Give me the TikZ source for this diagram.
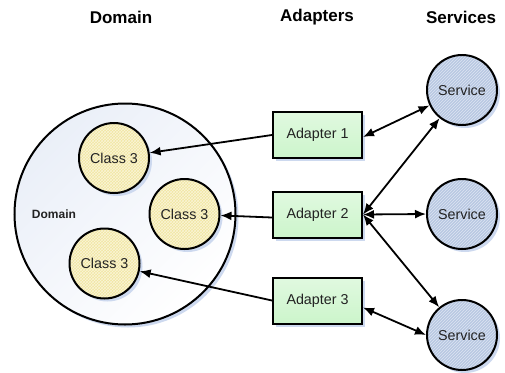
\documentclass[tikz,border=0pt]{standalone}
\usepackage{fontspec}
\setmainfont{Liberation Sans}
\usetikzlibrary{shadows,patterns,arrows.meta}
\definecolor{classfill}{HTML}{F0E6A2}
\definecolor{classhatch}{HTML}{FAF4D6}
\definecolor{svcfill}{HTML}{B8C8E2}
\definecolor{svchatch}{HTML}{DDE5F3}
\definecolor{adfill}{HTML}{CCF5CB}
\definecolor{shadowc}{HTML}{CDD9EF}
\definecolor{domfill}{HTML}{EAEFF8}
\definecolor{labeltext}{HTML}{222222}
\begin{document}
\begin{tikzpicture}[x=1pt,y=-1pt,
  shadowed/.style={drop shadow={shadow xshift=3pt,shadow yshift=-3pt,fill=shadowc,opacity=1}},
  title/.style={font=\bfseries\fontsize{17}{20}\selectfont,text=black},
  lbl/.style={font=\fontsize{14.3}{16}\selectfont,text=labeltext},
  domainnode/.style={circle,draw=black,line width=2pt,minimum size=221pt,inner sep=0pt,shadowed,left color=domfill,right color=white,shading angle=45},
  classnode/.style={circle,draw=black,line width=2pt,minimum size=70pt,inner sep=0pt,shadowed,preaction={fill=classfill},pattern=crosshatch,pattern color=classhatch,lbl},
  adnode/.style={rectangle,draw=black,line width=2pt,minimum width=89pt,minimum height=46pt,inner sep=0pt,shadowed,top color=adfill!60!white,bottom color=adfill,lbl},
  svcnode/.style={circle,draw=black,line width=2pt,minimum size=70pt,inner sep=0pt,shadowed,preaction={fill=svcfill},pattern=north east lines,pattern color=svchatch,lbl},
  conn/.style={line width=1.8pt,draw=black,-{Latex[length=11pt,width=9pt]}},
  biconn/.style={line width=1.8pt,draw=black,{Latex[length=11pt,width=9pt]}-{Latex[length=11pt,width=9pt]}}
]
\useasboundingbox (0,0) rectangle (505,372);
\fill[white] (0,0) rectangle (505,372);

\node[title] (tdom) at (121,17) {Domain};
\node[title] (tad) at (317,17) {Adapters};
\node[title] (tsvc) at (461,17) {Services};

\node[domainnode] (dom) at (125,214) {};
\node[font=\bfseries\fontsize{12}{14}\selectfont,text=labeltext] (domlabel) at (54,214) {Domain};

\node[classnode] (c1) at (114,158) {Class 3};
\node[classnode] (c2) at (184.5,214) {Class 3};
\node[classnode] (c3) at (104.5,263.5) {Class 3};

\node[adnode] (a1) at (317.5,135) {Adapter 1};
\node[adnode] (a2) at (317.5,214.5) {Adapter 2};
\node[adnode] (a3) at (317.5,300.5) {Adapter 3};

\node[svcnode] (s1) at (462,90) {Service};
\node[svcnode] (s2) at (462,214) {Service};
\node[svcnode] (s3) at (462,335) {Service};

\draw[conn] (a1.west) -- (c1);
\draw[conn] ([yshift=-3pt]a2.west) -- (c2);
\draw[conn] (a3.west) -- (c3);

\draw[biconn] ([yshift=-2pt]a1.east) -- (s1);
\draw[biconn] (a2.east) -- (s1);
\draw[biconn] (a2.east) -- (s2.west);
\draw[biconn] (a2.east) -- (s3);
\draw[biconn] ([yshift=-7pt]a3.east) -- (s3.west);
\end{tikzpicture}
\end{document}
